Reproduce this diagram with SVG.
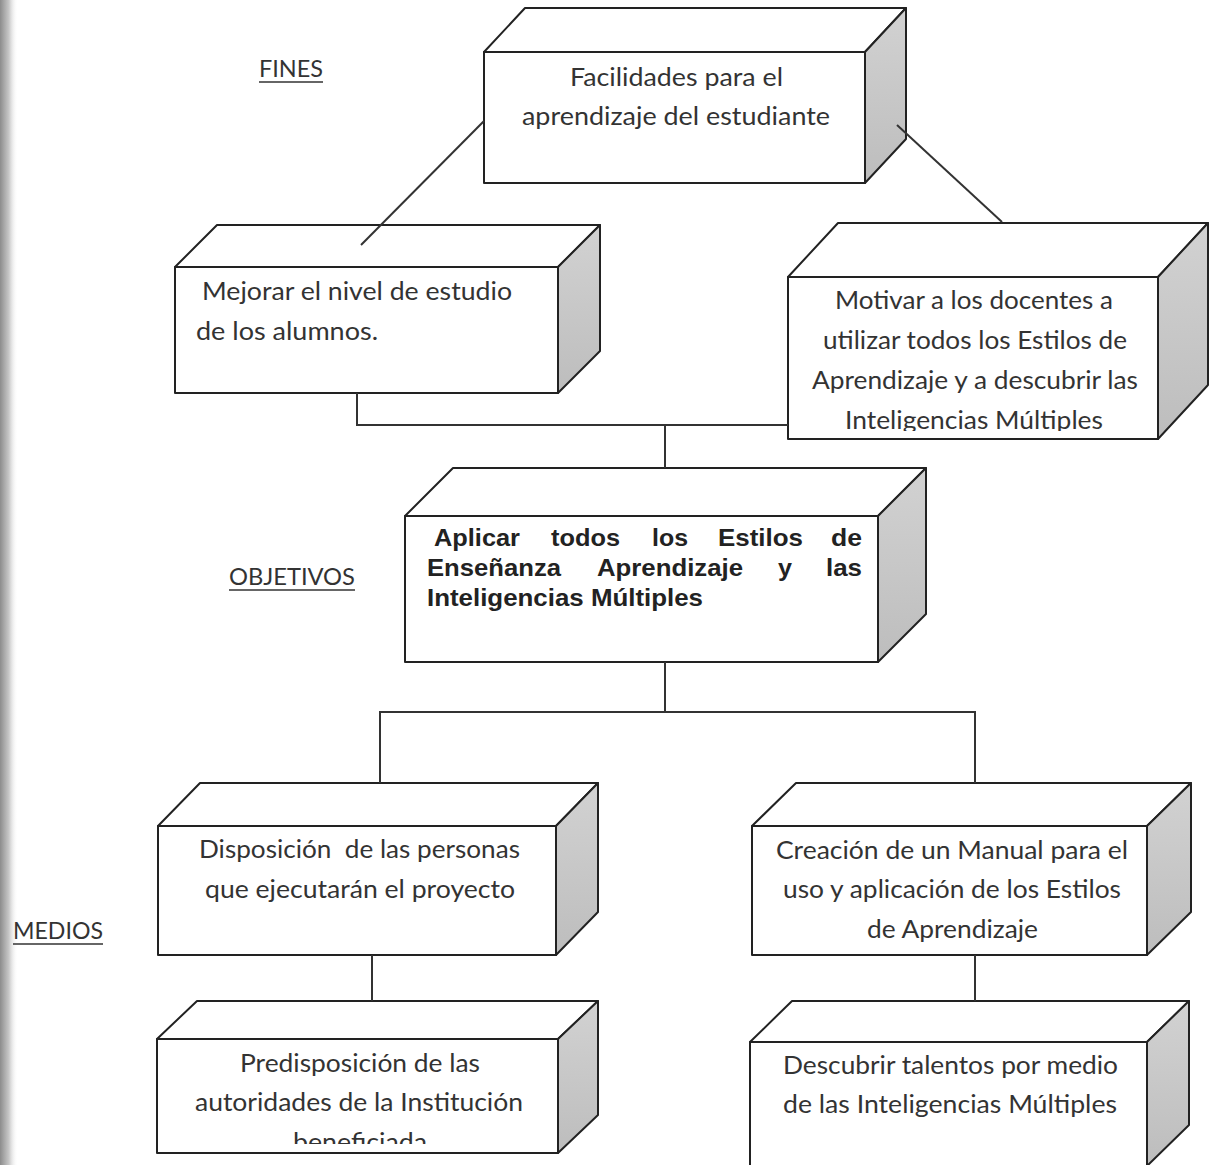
<svg xmlns="http://www.w3.org/2000/svg" width="1211" height="1165" viewBox="0 0 1211 1165">
<style>
.face{fill:#fff;stroke:#222;stroke-width:2;stroke-linejoin:round}
.side{fill:url(#sideg);stroke:#222;stroke-width:2;stroke-linejoin:round}
.t{font-family:Lato,"Open Sans","Liberation Sans",sans-serif;font-size:25px;fill:#333}
.b{font-family:"Liberation Sans",Arial,sans-serif;font-size:24px;font-weight:bold;fill:#222}
.lbl{font-family:Lato,"Open Sans","Liberation Sans",sans-serif;font-size:24px;fill:#333}
.ul{stroke:#333;stroke-width:1.6}
.c{fill:none;stroke:#333;stroke-width:2}
</style>
<defs>
<linearGradient id="sideg" x1="0" y1="0" x2="0" y2="1">
<stop offset="0" stop-color="#d2d2d2"/>
<stop offset="1" stop-color="#bdbdbd"/>
</linearGradient>
<linearGradient id="edge" x1="0" y1="0" x2="1" y2="0">
<stop offset="0" stop-color="#8c8c8c"/>
<stop offset="0.5" stop-color="#c8c8c8"/>
<stop offset="1" stop-color="#fff" stop-opacity="0"/>
</linearGradient>
<clipPath id="clip3"><rect x="789" y="278" width="368" height="153"/></clipPath>
<clipPath id="clip7"><rect x="158" y="1040" width="399" height="104"/></clipPath>
</defs>
<rect x="0" y="0" width="1211" height="1165" fill="#fff"/>
<rect x="0" y="0" width="18" height="1165" fill="url(#edge)"/>

<g id="labels">
<text class="lbl" x="259" y="77" textLength="64" lengthAdjust="spacingAndGlyphs">FINES</text>
<line class="ul" x1="259" y1="82" x2="323" y2="82"/>
<text class="lbl" x="229" y="585" textLength="126" lengthAdjust="spacingAndGlyphs">OBJETIVOS</text>
<line class="ul" x1="229" y1="590" x2="355" y2="590"/>
<text class="lbl" x="13" y="939" textLength="90" lengthAdjust="spacingAndGlyphs">MEDIOS</text>
<line class="ul" x1="13" y1="944" x2="103" y2="944"/>
</g>

<g id="node-fin">
<polygon class="face" points="484,52 525,8 906,8 865,52"/>
<polygon class="side" points="865,52 906,8 906,139 865,183"/>
<rect class="face" x="484" y="52" width="381" height="131"/>
<text class="t" x="570" y="86" textLength="213" lengthAdjust="spacingAndGlyphs">Facilidades para el</text>
<text class="t" x="522" y="125" textLength="308" lengthAdjust="spacingAndGlyphs">aprendizaje del estudiante</text>
</g>

<g id="node-mejorar">
<polygon class="face" points="175,267 217,225 600,225 558,267"/>
<polygon class="side" points="558,267 600,225 600,351 558,393"/>
<rect class="face" x="175" y="267" width="383" height="126"/>
<text class="t" x="202" y="300" textLength="310" lengthAdjust="spacingAndGlyphs">Mejorar el nivel de estudio</text>
<text class="t" x="196" y="340" textLength="182" lengthAdjust="spacingAndGlyphs">de los alumnos.</text>
</g>

<g id="node-motivar">
<polygon class="face" points="788,277 838,223 1208,223 1158,277"/>
<polygon class="side" points="1158,277 1208,223 1208,385 1158,439"/>
<rect class="face" x="788" y="277" width="370" height="162"/>
<g clip-path="url(#clip3)">
<text class="t" x="835" y="309" textLength="278" lengthAdjust="spacingAndGlyphs">Motivar a los docentes a</text>
<text class="t" x="823" y="349" textLength="304" lengthAdjust="spacingAndGlyphs">utilizar todos los Estilos de</text>
<text class="t" x="812" y="389" textLength="326" lengthAdjust="spacingAndGlyphs">Aprendizaje y a descubrir las</text>
<text class="t" x="845" y="429" textLength="258" lengthAdjust="spacingAndGlyphs">Inteligencias Múltiples</text>
</g>
</g>

<g id="node-objetivo">
<polygon class="face" points="405,516 453,468 926,468 878,516"/>
<polygon class="side" points="878,516 926,468 926,614 878,662"/>
<rect class="face" x="405" y="516" width="473" height="146"/>
<text class="b" y="546"><tspan x="434" textLength="86" lengthAdjust="spacingAndGlyphs">Aplicar</tspan><tspan x="551" textLength="69" lengthAdjust="spacingAndGlyphs">todos</tspan><tspan x="652" textLength="36" lengthAdjust="spacingAndGlyphs">los</tspan><tspan x="718" textLength="85" lengthAdjust="spacingAndGlyphs">Estilos</tspan><tspan x="831" textLength="31" lengthAdjust="spacingAndGlyphs">de</tspan></text>
<text class="b" y="576"><tspan x="427" textLength="134" lengthAdjust="spacingAndGlyphs">Enseñanza</tspan><tspan x="597" textLength="146" lengthAdjust="spacingAndGlyphs">Aprendizaje</tspan><tspan x="778" textLength="14" lengthAdjust="spacingAndGlyphs">y</tspan><tspan x="826" textLength="36" lengthAdjust="spacingAndGlyphs">las</tspan></text>
<text class="b" x="427" y="606" textLength="276" lengthAdjust="spacingAndGlyphs">Inteligencias Múltiples</text>
</g>

<g id="node-disposicion">
<polygon class="face" points="158,826 200,783 598,783 556,826"/>
<polygon class="side" points="556,826 598,783 598,912 556,955"/>
<rect class="face" x="158" y="826" width="398" height="129"/>
<text class="t" x="199" y="858" textLength="321" lengthAdjust="spacingAndGlyphs" xml:space="preserve">Disposición  de las personas</text>
<text class="t" x="205" y="898" textLength="310" lengthAdjust="spacingAndGlyphs">que ejecutarán el proyecto</text>
</g>

<g id="node-manual">
<polygon class="face" points="752,826 796,783 1191,783 1147,826"/>
<polygon class="side" points="1147,826 1191,783 1191,912 1147,955"/>
<rect class="face" x="752" y="826" width="395" height="129"/>
<text class="t" x="776" y="859" textLength="352" lengthAdjust="spacingAndGlyphs">Creación de un Manual para el</text>
<text class="t" x="783" y="898" textLength="338" lengthAdjust="spacingAndGlyphs">uso y aplicación de los Estilos</text>
<text class="t" x="867" y="938" textLength="171" lengthAdjust="spacingAndGlyphs">de Aprendizaje</text>
</g>

<g id="node-predisposicion">
<polygon class="face" points="157,1039 197,1001 598,1001 558,1039"/>
<polygon class="side" points="558,1039 598,1001 598,1115 558,1153"/>
<rect class="face" x="157" y="1039" width="401" height="114"/>
<g clip-path="url(#clip7)">
<text class="t" x="240" y="1072" textLength="240" lengthAdjust="spacingAndGlyphs">Predisposición de las</text>
<text class="t" x="195" y="1111" textLength="328" lengthAdjust="spacingAndGlyphs">autoridades de la Institución</text>
<text class="t" x="293" y="1151" textLength="134" lengthAdjust="spacingAndGlyphs">beneficiada</text>
</g>
</g>

<g id="node-talentos">
<polygon class="face" points="750,1042 792,1001 1189,1001 1147,1042"/>
<polygon class="side" points="1147,1042 1189,1001 1189,1125 1147,1166"/>
<rect class="face" x="750" y="1042" width="397" height="130"/>
<text class="t" x="783" y="1074" textLength="335" lengthAdjust="spacingAndGlyphs">Descubrir talentos por medio</text>
<text class="t" x="783" y="1113" textLength="334" lengthAdjust="spacingAndGlyphs">de las Inteligencias Múltiples</text>
</g>

<g id="connectors">
<line class="c" x1="361" y1="245" x2="484" y2="121"/>
<line class="c" x1="897" y1="125" x2="1002" y2="222"/>
<polyline class="c" points="357,393 357,425 788,425"/>
<line class="c" x1="665" y1="425" x2="665" y2="468"/>
<line class="c" x1="665" y1="662" x2="665" y2="712"/>
<polyline class="c" points="380,783 380,712 975,712 975,783"/>
<line class="c" x1="372" y1="955" x2="372" y2="1001"/>
<line class="c" x1="975" y1="955" x2="975" y2="1001"/>
</g>
</svg>
